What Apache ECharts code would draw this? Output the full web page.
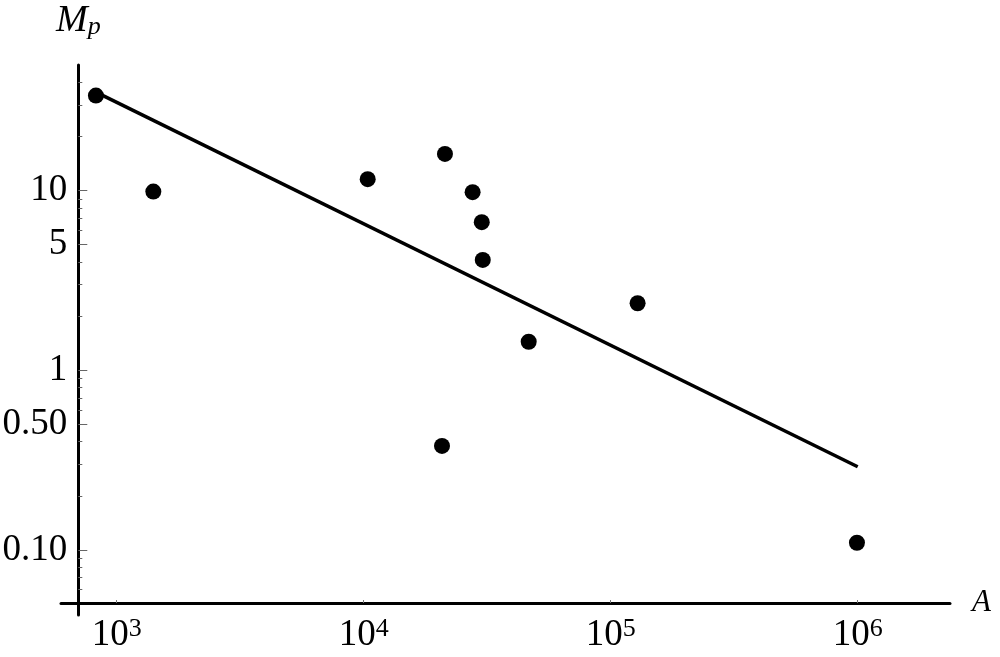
<!DOCTYPE html>
<html><head><meta charset="utf-8">
<script src="https://cdn.jsdelivr.net/npm/echarts@6/dist/echarts.min.js"></script>
<style>html,body{margin:0;padding:0;background:#fff}#c{width:1000px;height:657px}</style>
</head><body><div id="c"></div>
<script>
// Data (log-log plot)
const pointA = [824, 1407, 10380, 21330, 27600, 30060, 30340, 46560, 20750, 128500, 993000];
const pointM = [33.8, 9.87, 11.57, 16.0, 9.8, 6.67, 4.11, 1.44, 0.379, 2.36, 0.1096];
const fitA = [824, 1000000];
const fitM = [35.3, 0.29];
const xTickValues = [1e3, 1e4, 1e5, 1e6];
const xTickExps = ['3', '4', '5', '6'];
const yMajorValues = [0.1, 0.5, 1, 5, 10];
const yMajorLabels = ['0.10', '0.50', '1', '5', '10'];
const yMinorValues = [0.06, 0.07, 0.08, 0.09, 0.2, 0.3, 0.4, 0.6, 0.7, 0.8, 0.9, 2, 3, 4, 6, 7, 8, 9, 20, 30, 40];
const xRange = [595, 2.364e6];
const yRange = [0.0434, 50];

const FONT = 'Liberation Serif';
function findIdx(arr, v) {
  for (let i = 0; i < arr.length; i++) if (Math.abs(arr[i] - v) / arr[i] < 1e-6) return i;
  return -1;
}
const chart = echarts.init(document.getElementById('c'), null, {renderer: 'canvas'});
const yBase = {
  type: 'log', min: yRange[0], max: yRange[1], position: 'left', offset: -17.3,
  splitLine: {show: false}, minorTick: {show: false}, minorSplitLine: {show: false}
};
const option = {
  animation: false,
  backgroundColor: '#fff',
  grid: {left: 61, right: 50, top: 65, bottom: 42, containLabel: false, outerBoundsMode: 'none'},
  xAxis: [{
    type: 'log', min: xRange[0], max: xRange[1], position: 'bottom', offset: -12,
    splitLine: {show: false},
    axisLine: {show: true, lineStyle: {color: '#000', width: 3}},
    axisTick: {show: true, inside: true, length: 3, customValues: xTickValues, lineStyle: {color: '#777', width: 1}},
    axisLabel: {
      show: true, margin: 13, customValues: xTickValues,
      formatter: function (v) { const i = findIdx(xTickValues, v); return '{b|10}{s|' + (i >= 0 ? xTickExps[i] : '') + '}'; },
      rich: {
        b: {fontFamily: FONT, fontSize: 37, color: '#000', verticalAlign: 'bottom'},
        s: {fontFamily: FONT, fontSize: 26, color: '#000', verticalAlign: 'bottom', padding: [0, 0, 12, 0]}
      }
    },
    name: 'A', nameLocation: 'end', nameGap: 22,
    nameTextStyle: {fontFamily: FONT, fontStyle: 'italic', fontSize: 31, color: '#000', padding: [12, 0, 0, 0]}
  }],
  yAxis: [
    Object.assign({}, yBase, {
      axisLine: {show: true, lineStyle: {color: '#000', width: 3}},
      axisTick: {show: true, inside: true, length: 9, customValues: yMajorValues, lineStyle: {color: '#666', width: 1}},
      axisLabel: {
        show: true, margin: 11, customValues: yMajorValues,
        fontFamily: FONT, fontSize: 37, color: '#000',
        formatter: function (v) { const i = findIdx(yMajorValues, v); return i >= 0 ? yMajorLabels[i] : ''; }
      },
      name: '{m|M}{p|p}', nameLocation: 'end', nameGap: 25,
      nameTextStyle: {
        rich: {
          m: {fontFamily: FONT, fontStyle: 'italic', fontSize: 38, color: '#000', verticalAlign: 'bottom'},
          p: {fontFamily: FONT, fontStyle: 'italic', fontSize: 26, color: '#000', verticalAlign: 'bottom'}
        }
      }
    }),
    Object.assign({}, yBase, {
      axisLine: {show: false},
      axisTick: {show: true, inside: true, length: 4, customValues: yMinorValues, lineStyle: {color: '#666', width: 1}},
      axisLabel: {show: false}
    })
  ],
  series: [
    {
      type: 'line', xAxisIndex: 0, yAxisIndex: 0, symbol: 'none', silent: true,
      lineStyle: {color: '#000', width: 3.5, opacity: 1},
      data: fitA.map((a, i) => [a, fitM[i]]), z: 3
    },
    {
      type: 'scatter', xAxisIndex: 0, yAxisIndex: 0, symbol: 'circle', symbolSize: 16,
      itemStyle: {color: '#000', opacity: 1},
      data: pointA.map((a, i) => [a, pointM[i]]), z: 4
    }
  ]
};
chart.setOption(option);
</script>
</body></html>
